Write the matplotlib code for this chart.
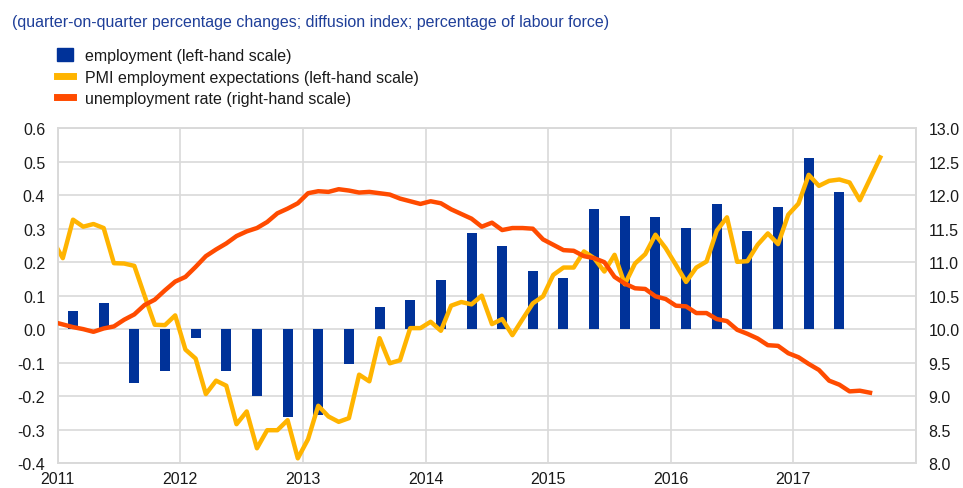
import matplotlib
matplotlib.use("Agg")
import matplotlib.pyplot as plt
from matplotlib.lines import Line2D
from matplotlib.patches import Patch
import numpy as np

plt.rcParams['font.family'] = ['Liberation Sans', 'DejaVu Sans']

# Quarterly employment growth, 2011Q1 .. 2017Q2 (left-hand scale)
employment = [0.054, 0.079, -0.161, -0.125,
              -0.027, -0.126, -0.199, -0.263,
              -0.256, -0.105, 0.066, 0.088,
              0.146, 0.288, 0.248, 0.175,
              0.152, 0.360, 0.338, 0.335,
              0.302, 0.373, 0.292, 0.364,
              0.510, 0.411]

# Monthly PMI employment expectations (rescaled, left-hand scale), Dec 2010 .. Oct 2017
pmi = [0.266,
       0.212, 0.327, 0.306, 0.314, 0.302, 0.197, 0.196, 0.189, 0.100, 0.013, 0.012, 0.041,
       -0.061, -0.088, -0.194, -0.154, -0.169, -0.284, -0.246, -0.356, -0.302, -0.302, -0.272, -0.386,
       -0.329, -0.229, -0.261, -0.277, -0.266, -0.136, -0.156, -0.027, -0.102, -0.093, 0.003, 0.003,
       0.022, -0.005, 0.070, 0.081, 0.074, 0.100, 0.015, 0.030, -0.018, 0.030, 0.077, 0.098,
       0.162, 0.184, 0.184, 0.232, 0.212, 0.172, 0.222, 0.134, 0.196, 0.224, 0.282, 0.242,
       0.192, 0.141, 0.184, 0.202, 0.294, 0.334, 0.201, 0.203, 0.252, 0.286, 0.254, 0.342,
       0.375, 0.461, 0.428, 0.443, 0.447, 0.438, 0.385, 0.449, 0.513]

# Monthly unemployment rate (right-hand scale), Dec 2010 .. Aug 2017
unemp = [10.11,
         10.07, 10.03, 10.00, 9.96, 10.01, 10.04, 10.14, 10.22, 10.36, 10.44, 10.58, 10.71,
         10.78, 10.93, 11.09, 11.19, 11.28, 11.39, 11.46, 11.51, 11.60, 11.73, 11.80, 11.88,
         12.03, 12.06, 12.05, 12.09, 12.07, 12.04, 12.05, 12.03, 12.01, 11.95, 11.91, 11.87,
         11.91, 11.88, 11.79, 11.72, 11.65, 11.53, 11.59, 11.48, 11.51, 11.51, 11.50, 11.34,
         11.26, 11.18, 11.17, 11.09, 11.06, 11.00, 10.78, 10.68, 10.61, 10.60, 10.49, 10.45,
         10.35, 10.34, 10.24, 10.24, 10.15, 10.12, 9.99, 9.93, 9.86, 9.76, 9.75, 9.64,
         9.58, 9.48, 9.39, 9.23, 9.17, 9.07, 9.08, 9.05]

years = [2011, 2012, 2013, 2014, 2015, 2016, 2017]
left_ticks = [-0.4, -0.3, -0.2, -0.1, 0.0, 0.1, 0.2, 0.3, 0.4, 0.5, 0.6]
right_ticks = [8.0, 8.5, 9.0, 9.5, 10.0, 10.5, 11.0, 11.5, 12.0, 12.5, 13.0]

title = "(quarter-on-quarter percentage changes; diffusion index; percentage of labour force)"
labels = ["employment (left-hand scale)",
          "PMI employment expectations (left-hand scale)",
          "unemployment rate (right-hand scale)"]

BLUE = "#003299"
YELLOW = "#FFB400"
ORANGE = "#FF4B00"
GRID = "#D9D9D9"
TEXT = "#1A1A1A"
FS = 11.5

x_q = 2011 + (np.arange(len(employment)) * 3 + 1.5) / 12.0
x_pmi = 2011 + (np.arange(len(pmi)) - 1 + 0.5) / 12.0
x_un = 2011 + (np.arange(len(unemp)) - 1 + 0.5) / 12.0

fig = plt.figure(figsize=(9.63, 4.89), dpi=100)
ax = fig.add_axes([0.0599, 0.0511, 0.8913, 0.6845])
ax2 = ax.twinx()

ax.bar(x_q, employment, width=0.0816, color=BLUE, zorder=2)
ax.plot(x_pmi, pmi, color=YELLOW, lw=3.2, zorder=3)
ax2.plot(x_un, unemp, color=ORANGE, lw=3.2, zorder=4)

ax.set_xlim(2011, 2018)
ax.set_ylim(-0.4, 0.6)
ax2.set_ylim(8.0, 13.0)

ax.set_xticks(years + [2018])
ax.set_xticklabels([str(y) for y in years] + [""])
ax.set_yticks(left_ticks)
ax.set_yticklabels([f"{v:.1f}" for v in left_ticks])
ax2.set_yticks(right_ticks)
ax2.set_yticklabels([f"{v:.1f}" for v in right_ticks])

ax.grid(True, color=GRID, lw=1.2, zorder=0)
ax.set_axisbelow(True)
ax2.grid(False)

for a in (ax, ax2):
    for s in a.spines.values():
        s.set_color(GRID)
        s.set_linewidth(1.2)
    a.tick_params(length=0, labelsize=FS, colors=TEXT)
ax.tick_params(axis='y', pad=9)
ax2.tick_params(axis='y', pad=9)
ax.tick_params(axis='x', pad=5.5)

ax2.set_zorder(ax.get_zorder() + 1)
ax2.patch.set_visible(False)

fig.text(0.012, 0.953, title, color="#1F3F99", fontsize=FS, va='center', ha='left')

handles = [Patch(facecolor=BLUE, edgecolor=BLUE),
           Line2D([0], [0], color=YELLOW, lw=5),
           Line2D([0], [0], color=ORANGE, lw=5)]
fig.legend(handles, labels, loc='upper left', bbox_to_anchor=(0.044, 0.93),
           frameon=False, fontsize=FS, handlelength=1.0, handleheight=0.9,
           handletextpad=0.75, labelspacing=0.42, labelcolor=TEXT)

fig.savefig("out.png", dpi=100)
